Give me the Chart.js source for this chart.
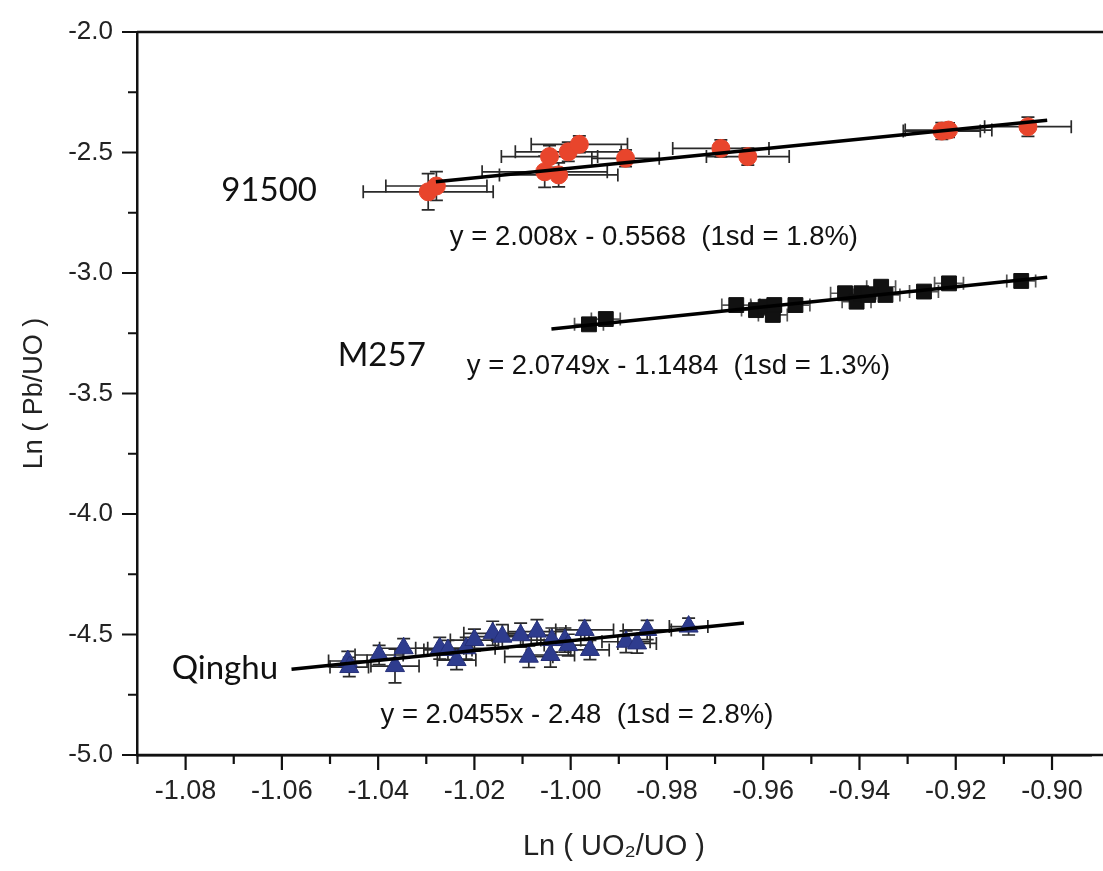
<!DOCTYPE html>
<html>
<head>
<meta charset="utf-8">
<script src="https://cdn.jsdelivr.net/npm/chart.js@4.4.1/dist/chart.umd.min.js"></script>
<style>
  html, body { margin: 0; padding: 0; background: #ffffff; }
  #wrap { width: 1103px; height: 871px; position: relative; }
</style>
</head>
<body>
<div id="wrap"><canvas id="c" width="1103" height="871"></canvas></div>
<script>
// ---------------- data ----------------
const x91500 = [-1.0296, -1.0279, -1.0054, -1.0025, -1.0044, -1.0005, -0.9982, -0.9886, -0.9688, -0.9632, -0.9229, -0.9215, -0.9050];
const y91500 = [-2.663, -2.639, -2.580, -2.593, -2.517, -2.497, -2.466, -2.524, -2.483, -2.517, -2.411, -2.407, -2.393];
const xErr91500 = [0.0135, 0.0105, 0.0130, 0.0123, 0.0100, 0.0110, 0.0100, 0.0070, 0.0100, 0.0086, 0.0080, 0.0090, 0.0090];
const yErr91500 = [0.075, 0.060, 0.065, 0.050, 0.045, 0.040, 0.035, 0.035, 0.035, 0.035, 0.035, 0.030, 0.040];

const xM257 = [-0.9962, -0.9927, -0.9656, -0.9615, -0.9595, -0.9580, -0.9577, -0.9533, -0.9430, -0.9406, -0.9396, -0.9382, -0.9355, -0.9346, -0.9266, -0.9214, -0.9064];
const yM257 = [-3.213, -3.191, -3.133, -3.154, -3.140, -3.174, -3.133, -3.133, -3.084, -3.119, -3.084, -3.091, -3.057, -3.091, -3.077, -3.043, -3.033];
const xErrM257 = [0.003, 0.003, 0.003, 0.003, 0.003, 0.003, 0.003, 0.003, 0.003, 0.003, 0.003, 0.003, 0.003, 0.003, 0.003, 0.003, 0.003];
const yErrM257 = [0.020, 0.020, 0.020, 0.020, 0.020, 0.020, 0.020, 0.020, 0.020, 0.020, 0.020, 0.020, 0.020, 0.020, 0.020, 0.020, 0.020];

const xQinghu = [-1.0463, -1.0460, -1.0398, -1.0365, -1.0347, -1.0272, -1.0255, -1.0237, -1.0217, -1.0200, -1.0162, -1.0142, -1.0104, -1.0087, -1.0070, -1.0042, -1.0039, -1.0012, -1.0005, -0.9971, -0.9960, -0.9885, -0.9862, -0.9841, -0.9755];
const yQinghu = [-4.610, -4.635, -4.585, -4.631, -4.557, -4.557, -4.564, -4.606, -4.557, -4.523, -4.495, -4.509, -4.503, -4.592, -4.488, -4.585, -4.523, -4.523, -4.544, -4.481, -4.564, -4.530, -4.537, -4.481, -4.467];
const xErrQinghu = [0.004, 0.004, 0.005, 0.005, 0.005, 0.005, 0.005, 0.004, 0.006, 0.005, 0.006, 0.006, 0.006, 0.005, 0.006, 0.005, 0.006, 0.005, 0.005, 0.006, 0.004, 0.005, 0.004, 0.005, 0.004];
const yErrQinghu = [0.040, 0.040, 0.040, 0.070, 0.040, 0.045, 0.040, 0.040, 0.045, 0.045, 0.050, 0.050, 0.050, 0.045, 0.050, 0.050, 0.050, 0.050, 0.045, 0.040, 0.040, 0.045, 0.040, 0.040, 0.035];

// fitted-line end points
const fit91500X = [-1.028, -0.901];
const fit91500Y = [-2.621, -2.366];
const fitM257X = [-1.004, -0.901];
const fitM257Y = [-3.232, -3.018];
const fitQinghuX = [-1.058, -0.964];
const fitQinghuY = [-4.644, -4.452];

// tick labels
const xMajorTicks = [-1.08, -1.06, -1.04, -1.02, -1.00, -0.98, -0.96, -0.94, -0.92, -0.90];
const xMinorTicks = [-1.09, -1.07, -1.05, -1.03, -1.01, -0.99, -0.97, -0.95, -0.93, -0.91];
const yMajorTicks = [-5.0, -4.5, -4.0, -3.5, -3.0, -2.5, -2.0];
const yMinorTicks = [-4.75, -4.25, -3.75, -3.25, -2.75, -2.25];

// annotations
const notes = [
  { text: '91500', x: -1.0726, y: -2.656, kind: 'name' },
  { text: 'y = 2.008x - 0.5568  (1sd = 1.8%)', x: -0.9827, y: -2.851, kind: 'eq' },
  { text: 'M257', x: -1.0484, y: -3.340, kind: 'name' },
  { text: 'y = 2.0749x - 1.1484  (1sd = 1.3%)', x: -0.9776, y: -3.386, kind: 'eq' },
  { text: 'Qinghu', x: -1.0829, y: -4.639, kind: 'name' },
  { text: 'y = 2.0455x - 2.48  (1sd = 2.8%)', x: -0.9987, y: -4.834, kind: 'eq' }
];

// ---------------- helpers ----------------
const pts = (xs, ys) => xs.map((v, i) => ({ x: v, y: ys[i] }));

const errorBars = {
  id: 'errorBars',
  beforeDatasetsDraw(chart) {
    const ctx = chart.ctx;
    const xs = chart.scales.x, ys = chart.scales.y;
    ctx.save();
    chart.data.datasets.forEach(ds => {
      if (!ds.xErr) return;
      ctx.strokeStyle = ds.errColor;
      ctx.lineWidth = 1.7;
      ds.data.forEach((p, i) => {
        const px = xs.getPixelForValue(p.x), py = ys.getPixelForValue(p.y);
        const x1 = xs.getPixelForValue(p.x - ds.xErr[i]), x2 = xs.getPixelForValue(p.x + ds.xErr[i]);
        const y1 = ys.getPixelForValue(p.y - ds.yErr[i]), y2 = ys.getPixelForValue(p.y + ds.yErr[i]);
        const c = 6.5;
        ctx.beginPath();
        ctx.moveTo(x1, py); ctx.lineTo(x2, py);
        ctx.moveTo(x1, py - c); ctx.lineTo(x1, py + c);
        ctx.moveTo(x2, py - c); ctx.lineTo(x2, py + c);
        ctx.moveTo(px, y1); ctx.lineTo(px, y2);
        ctx.moveTo(px - c, y1); ctx.lineTo(px + c, y1);
        ctx.moveTo(px - c, y2); ctx.lineTo(px + c, y2);
        ctx.stroke();
      });
    });
    ctx.restore();
  }
};

const axisDecor = {
  id: 'axisDecor',
  afterDraw(chart) {
    const ctx = chart.ctx;
    const xs = chart.scales.x, ys = chart.scales.y;
    const a = chart.chartArea;
    ctx.save();
    ctx.strokeStyle = '#111';
    ctx.lineWidth = 2.5;
    ctx.beginPath();
    ctx.moveTo(a.left, a.top); ctx.lineTo(chart.width, a.top);
    ctx.moveTo(a.left, a.bottom); ctx.lineTo(chart.width, a.bottom);
    ctx.stroke();
    ctx.lineWidth = 2.2;
    ctx.beginPath();
    xMajorTicks.forEach(v => { const p = xs.getPixelForValue(v); ctx.moveTo(p, a.bottom); ctx.lineTo(p, a.bottom + 15); });
    xMinorTicks.forEach(v => { const p = xs.getPixelForValue(v); ctx.moveTo(p, a.bottom); ctx.lineTo(p, a.bottom + 9); });
    yMajorTicks.forEach(v => { const p = ys.getPixelForValue(v); ctx.moveTo(a.left, p); ctx.lineTo(a.left - 15, p); });
    yMinorTicks.forEach(v => { const p = ys.getPixelForValue(v); ctx.moveTo(a.left, p); ctx.lineTo(a.left - 9, p); });
    ctx.stroke();
    ctx.restore();
  }
};

const notesPlugin = {
  id: 'notes',
  afterDatasetsDraw(chart) {
    const ctx = chart.ctx;
    const xs = chart.scales.x, ys = chart.scales.y;
    ctx.save();
    ctx.fillStyle = '#111';
    ctx.textBaseline = 'middle';
    notes.forEach(n => {
      if (n.kind === 'name') {
        ctx.font = '33px Lato, "Liberation Sans", sans-serif';
        ctx.textAlign = 'left';
      } else {
        ctx.font = '27.5px "Liberation Sans", Arial, sans-serif';
        ctx.textAlign = 'center';
      }
      ctx.fillText(n.text, xs.getPixelForValue(n.x), ys.getPixelForValue(n.y));
    });
    ctx.restore();
  }
};

new Chart(document.getElementById('c'), {
  type: 'scatter',
  data: {
    datasets: [
      { label: '91500 fit', type: 'line', data: pts(fit91500X, fit91500Y), borderColor: '#000', borderWidth: 3.5, pointRadius: 0, fill: false },
      { label: 'M257 fit', type: 'line', data: pts(fitM257X, fitM257Y), borderColor: '#000', borderWidth: 3.5, pointRadius: 0, fill: false },
      { label: 'Qinghu fit', type: 'line', data: pts(fitQinghuX, fitQinghuY), borderColor: '#000', borderWidth: 3.5, pointRadius: 0, fill: false },
      { label: '91500', data: pts(x91500, y91500), xErr: xErr91500, yErr: yErr91500, errColor: '#2a2a2a',
        pointStyle: 'circle', pointRadius: 9, backgroundColor: '#e8452c', borderColor: '#e8452c', borderWidth: 1 },
      { label: 'M257', data: pts(xM257, yM257), xErr: xErrM257, yErr: yErrM257, errColor: '#555',
        pointStyle: 'rect', pointRadius: 10.5, backgroundColor: '#111', borderColor: '#111', borderWidth: 1 },
      { label: 'Qinghu', data: pts(xQinghu, yQinghu), xErr: xErrQinghu, yErr: yErrQinghu, errColor: '#2a2a2a',
        pointStyle: 'triangle', pointRadius: 11, backgroundColor: '#2e3c8e', borderColor: '#26307a', borderWidth: 1 }
    ]
  },
  options: {
    responsive: false,
    animation: false,
    layout: { padding: { top: 32, right: 0, left: 0, bottom: 0 } },
    plugins: { legend: { display: false }, tooltip: { enabled: false } },
    scales: {
      x: {
        type: 'linear', min: -1.0901, max: -0.8919,
        afterBuildTicks: s => { s.ticks = xMajorTicks.map(v => ({ value: v })); },
        afterFit: s => { s.height = 116; s.paddingRight = 0; s.paddingLeft = 0; },
        ticks: { callback: v => v.toFixed(2), color: '#222', font: { family: '"Liberation Sans", Arial, sans-serif', size: 27 }, padding: 5, maxRotation: 0, autoSkip: false },
        grid: { display: true, drawOnChartArea: false, drawTicks: true, tickLength: 15, color: 'rgba(0,0,0,0)' },
        border: { display: true, color: '#111', width: 2.5 },
        title: { display: true, text: 'Ln ( UO\u2082/UO )', color: '#222', font: { family: '"Liberation Sans", Arial, sans-serif', size: 29 }, padding: { top: 0, bottom: 7 } }
      },
      y: {
        type: 'linear', min: -5.0, max: -2.0,
        afterBuildTicks: s => { s.ticks = yMajorTicks.map(v => ({ value: v })); },
        afterFit: s => { s.width = 137; },
        ticks: { callback: v => v.toFixed(1), color: '#222', font: { family: '"Liberation Sans", Arial, sans-serif', size: 26 }, padding: 10, autoSkip: false },
        grid: { display: true, drawOnChartArea: false, drawTicks: true, tickLength: 14, color: 'rgba(0,0,0,0)' },
        border: { display: true, color: '#111', width: 2.5 },
        title: { display: true, text: 'Ln ( Pb/UO )', color: '#222', font: { family: '"Liberation Sans", Arial, sans-serif', size: 27 }, padding: { top: 18, bottom: 0 } }
      }
    }
  },
  plugins: [errorBars, axisDecor, notesPlugin]
});
</script>
</body>
</html>
